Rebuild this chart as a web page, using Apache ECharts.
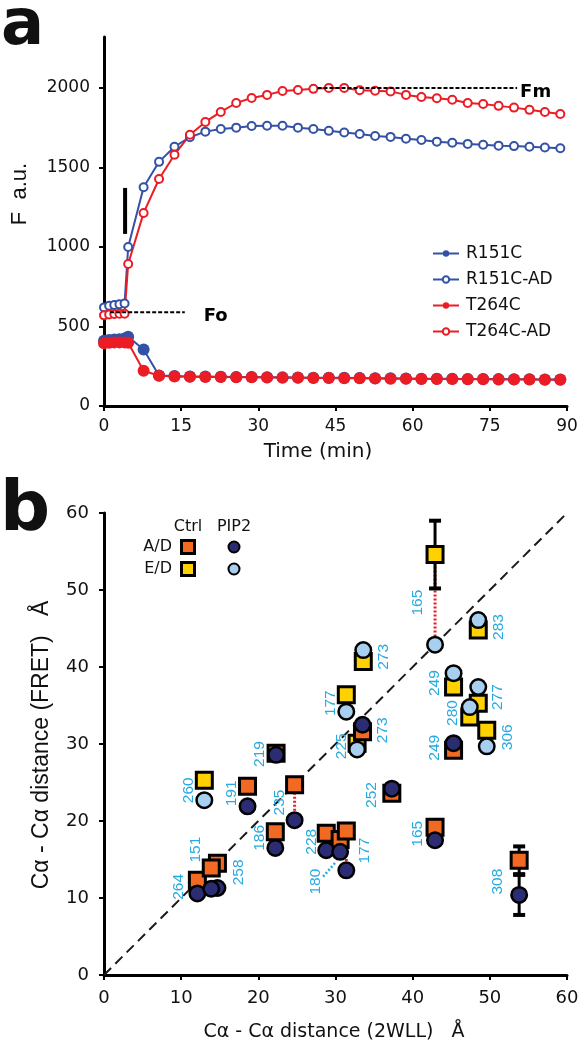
<!DOCTYPE html>
<html><head><meta charset="utf-8">
<script src="https://cdn.jsdelivr.net/npm/echarts@6/dist/echarts.min.js"></script>
<style>html,body{margin:0;padding:0;background:#fff}#c{width:582px;height:1050px}</style>
</head><body><div id="c"></div>
<script>
// ================= Panel a data =================
const timeMin = [0, 1, 2, 3, 4, 4.7, 7.7, 10.7, 13.7, 16.7, 19.7, 22.7, 25.7, 28.7, 31.7, 34.7, 37.7, 40.7, 43.7, 46.7, 49.7, 52.7, 55.7, 58.7, 61.7, 64.7, 67.7, 70.7, 73.7, 76.7, 79.7, 82.7, 85.7, 88.7];
const r151c   = [410, 415, 418, 420, 425, 435, 355, 192, 188, 186, 185, 184, 183, 182, 181, 180, 179, 178, 178, 177, 176, 175, 174, 173, 172, 172, 171, 170, 170, 169, 168, 168, 167, 167];
const r151cAD = [620, 630, 635, 640, 645, 1000, 1375, 1535, 1630, 1690, 1725, 1742, 1750, 1760, 1762, 1762, 1750, 1742, 1730, 1720, 1710, 1698, 1692, 1680, 1672, 1662, 1655, 1648, 1642, 1637, 1634, 1630, 1625, 1620];
const t264c   = [395, 398, 400, 400, 400, 398, 222, 190, 186, 184, 183, 182, 181, 180, 179, 178, 177, 176, 176, 175, 174, 173, 172, 171, 170, 170, 169, 168, 168, 167, 166, 166, 165, 165];
const t264cAD = [570, 575, 578, 580, 580, 893, 1214, 1427, 1580, 1705, 1786, 1849, 1905, 1937, 1956, 1981, 1987, 1994, 2000, 2000, 1985, 1982, 1978, 1956, 1943, 1935, 1925, 1905, 1899, 1887, 1876, 1862, 1849, 1836];
const aSeriesNames = ['R151C', 'R151C-AD', 'T264C', 'T264C-AD'];
const aTicksY = [0, 500, 1000, 1500, 2000];
const aTicksX = [0, 15, 30, 45, 60, 75, 90];
// annotations (data units)
const fmLine = [[41.5, 2000], [80.3, 2000]];
const foLine = [[1.2, 590], [15.7, 590]];
const addBar = [[4.1, 1082], [4.1, 1371]];

// ================= Panel b data =================
const adResidue = ['264', '151', '258', '191', '219', '186', '235', '228', '180', '177', '273', '252', '165', '249', '308'];
const adX       = [12.1, 14.7, 13.9, 18.6, 22.3, 22.2, 24.7, 28.8, 30.6, 31.4, 33.5, 37.3, 42.9, 45.3, 53.8];
const adCtrl    = [12.3, 14.5, 13.9, 24.5, 28.8, 18.6, 24.7, 18.4, 17.6, 18.7, 31.6, 23.6, 19.2, 29.2, 14.9];
const adPip2    = [10.6, 11.3, 11.2, 21.9, 28.6, 16.5, 20.1, 16.2, 16.0, 13.6, 32.5, 24.2, 17.5, 30.1, 10.4];
const adCtrlErr = [0, 0, 0, 0, 0, 0, 0, 0, 0, 0, 0, 0, 0, 0, 1.8];
const adPip2Err = [0, 0, 0, 0, 0, 0, 0, 0, 0, 0, 0, 0, 0, 0, 2.6];
const edResidue = ['260', '177', '225', '273', '165', '249', '280', '277', '283', '306'];
const edX       = [13.0, 31.4, 32.8, 33.6, 42.9, 45.3, 47.4, 48.5, 48.5, 49.6];
const edCtrl    = [25.3, 36.4, 30.1, 40.7, 54.6, 37.4, 33.5, 35.3, 44.8, 31.8];
const edPip2    = [22.7, 34.2, 29.3, 42.2, 42.9, 39.2, 34.8, 37.4, 46.1, 29.7];
const edCtrlErr = [0, 0, 0, 0, 4.4, 0, 0, 0, 0, 0];
const edPip2Err = [0, 0, 0, 0, 0, 0, 0, 0, 0, 0];
const adSignificant = ['235', '177'];
const edSignificant = ['165'];
const diagonal = [[0, 0], [60, 60]];
const bTicks = [0, 10, 20, 30, 40, 50, 60];

// ================= layout / style =================
const BLUE = '#3352a6', RED = '#ec1c24';
const ORANGE = '#f26a22', YELLOW = '#ffd100', NAVY = '#2b2c72', LIGHTBLUE = '#a8cff0';
const CYAN = '#27aae1';
const SANS = '"DejaVu Sans", sans-serif';
const ARIAL = '"Liberation Sans", Arial, sans-serif';
// label offsets in pixels from (x, mid y) of each pair
const labelOffset = {
  AD: {'264': [-19, 0], '151': [-22, -26], '258': [27, -6], '191': [-16, -3], '219': [-16, 0], '186': [-16, -2],
       '235': [-15, 0], '228': [-15, 0], '180': [-24, 36], '177': [18, 0], '273': [20, 2], '252': [-20, 4],
       '165': [-17, 0], '249': [-19, 1], '308': [-21, 4]},
  ED: {'260': [-16, 0], '177': [-16, 0], '225': [-15, 0], '273': [20, 1], '165': [-17, 3], '249': [-19, 3],
       '280': [-17, 1], '277': [19, 2], '283': [20, 2], '306': [21, -1]}
};
const leaders = {AD: {'180': [[-17, 31], [-4, 16]]}};

const chart = echarts.init(document.getElementById('c'), null, {renderer: 'canvas'});

function pts(xs, ys) { return xs.map((x, i) => [x, ys[i]]); }

const pairs = [];
adResidue.forEach((r, i) => pairs.push({t: 'AD', r, x: adX[i], c: adCtrl[i], p: adPip2[i]}));
edResidue.forEach((r, i) => pairs.push({t: 'ED', r, x: edX[i], c: edCtrl[i], p: edPip2[i]}));

const errData = [];
adX.forEach((x, i) => { if (adCtrlErr[i]) errData.push([x, adCtrl[i], adCtrlErr[i]]); if (adPip2Err[i]) errData.push([x, adPip2[i], adPip2Err[i]]); });
edX.forEach((x, i) => { if (edCtrlErr[i]) errData.push([x, edCtrl[i], edCtrlErr[i]]); if (edPip2Err[i]) errData.push([x, edPip2[i], edPip2Err[i]]); });

const sigData = [];
pairs.forEach(p => { if ((p.t === 'AD' && adSignificant.includes(p.r)) || (p.t === 'ED' && edSignificant.includes(p.r))) sigData.push([p.x, p.c, p.p]); });

const labelData = pairs.map((p, i) => [p.x, (p.c + p.p) / 2, i]);

const axisCommon = {
  axisLine: {show: true, onZero: false, lineStyle: {color: '#000', width: 3}},
  axisTick: {show: true, inside: false, length: 5, lineStyle: {color: '#000', width: 2}},
  splitLine: {show: false}
};
const plain = v => String(v);

const lineA = (name, data, color, filled) => ({
  type: 'line', name, xAxisIndex: 0, yAxisIndex: 0, data,
  symbol: filled ? 'circle' : 'emptyCircle', symbolSize: filled ? 12 : 8,
  showAllSymbol: true,
  itemStyle: {color, borderColor: color, borderWidth: filled ? 0 : 2},
  lineStyle: {color, width: 2}, z: filled ? 2 : 3
});

const option = {
  animation: false,
  backgroundColor: '#fff',
  textStyle: {fontFamily: SANS},
  grid: [
    {left: 104, top: 37, width: 463, height: 369},
    {left: 104, top: 513, width: 463, height: 462}
  ],
  xAxis: [
    Object.assign({}, axisCommon, {type: 'value', gridIndex: 0, min: 0, max: 90, interval: 15,
      axisLabel: {fontSize: 17, color: '#111', margin: 12, fontFamily: SANS, customValues: aTicksX, formatter: plain},
      axisTick: Object.assign({}, axisCommon.axisTick, {customValues: aTicksX})}),
    Object.assign({}, axisCommon, {type: 'value', gridIndex: 1, min: 0, max: 60, interval: 10,
      axisLabel: {fontSize: 18, color: '#111', margin: 14, fontFamily: SANS, customValues: bTicks, formatter: plain},
      axisTick: Object.assign({}, axisCommon.axisTick, {customValues: bTicks})})
  ],
  yAxis: [
    Object.assign({}, axisCommon, {type: 'value', gridIndex: 0, min: 0, max: 2320, interval: 500,
      axisLabel: {fontSize: 17, color: '#111', margin: 14, fontFamily: SANS, customValues: aTicksY, formatter: plain},
      axisTick: Object.assign({}, axisCommon.axisTick, {customValues: aTicksY})}),
    Object.assign({}, axisCommon, {type: 'value', gridIndex: 1, min: 0, max: 60, interval: 10,
      axisLabel: {fontSize: 18, color: '#111', margin: 15, fontFamily: SANS, customValues: bTicks, formatter: plain},
      axisTick: Object.assign({}, axisCommon.axisTick, {customValues: bTicks})})
  ],
  legend: {
    data: aSeriesNames, orient: 'vertical', left: 427, top: 240, itemWidth: 26, itemHeight: 8, itemGap: 9,
    textStyle: {fontSize: 17, color: '#111', fontFamily: SANS, padding: [0, 0, 0, 2]},
    selectedMode: false
  },
  series: [
    lineA('R151C', pts(timeMin, r151c), BLUE, true),
    lineA('T264C', pts(timeMin, t264c), RED, true),
    lineA('R151C-AD', pts(timeMin, r151cAD), BLUE, false),
    lineA('T264C-AD', pts(timeMin, t264cAD), RED, false),
    {type: 'line', xAxisIndex: 0, yAxisIndex: 0, data: fmLine, symbol: 'none', silent: true, z: 5,
      lineStyle: {color: '#000', width: 2, type: [4, 2]},
      endLabel: {show: true, formatter: 'Fm', fontSize: 18, fontWeight: 'bold', color: '#000', distance: 3, offset: [0, 4], fontFamily: SANS}},
    {type: 'line', xAxisIndex: 0, yAxisIndex: 0, data: foLine, symbol: 'none', silent: true, z: 5,
      lineStyle: {color: '#000', width: 2, type: [4, 2]},
      endLabel: {show: true, formatter: 'Fo', fontSize: 18, fontWeight: 'bold', color: '#000', distance: 19, offset: [0, 4], fontFamily: SANS}},
    {type: 'line', xAxisIndex: 0, yAxisIndex: 0, data: addBar, symbol: 'none', silent: true, z: 5,
      lineStyle: {color: '#000', width: 4}},

    // ---- panel b ----
    {type: 'line', xAxisIndex: 1, yAxisIndex: 1, data: diagonal, symbol: 'none', silent: true, z: 1,
      lineStyle: {color: '#1a1a1a', width: 2, type: [10, 6]}},
    {type: 'custom', xAxisIndex: 1, yAxisIndex: 1, data: sigData, z: 2, silent: true,
      renderItem: (params, api) => {
        const a = api.coord([api.value(0), api.value(1)]), b = api.coord([api.value(0), api.value(2)]);
        return {type: 'line', shape: {x1: a[0], y1: a[1], x2: b[0], y2: b[1]},
          style: {stroke: '#e8202a', lineWidth: 3, lineDash: [2, 2]}};
      }},
    {type: 'custom', xAxisIndex: 1, yAxisIndex: 1, data: errData, z: 3, silent: true,
      renderItem: (params, api) => {
        const x = api.value(0), y = api.value(1), e = api.value(2);
        const t = api.coord([x, y + e]), b = api.coord([x, y - e]);
        const cw = 6;
        return {type: 'group', children: [
          {type: 'line', shape: {x1: t[0], y1: t[1], x2: b[0], y2: b[1]}, style: {stroke: '#000', lineWidth: 3}},
          {type: 'line', shape: {x1: t[0] - cw, y1: t[1], x2: t[0] + cw, y2: t[1]}, style: {stroke: '#000', lineWidth: 4}},
          {type: 'line', shape: {x1: b[0] - cw, y1: b[1], x2: b[0] + cw, y2: b[1]}, style: {stroke: '#000', lineWidth: 4}}
        ]};
      }},
    {type: 'scatter', name: 'Ctrl E/D', xAxisIndex: 1, yAxisIndex: 1, data: pts(edX, edCtrl), z: 4,
      symbol: 'rect', symbolSize: 16, itemStyle: {color: YELLOW, borderColor: '#000', borderWidth: 3, opacity: 1}},
    {type: 'scatter', name: 'Ctrl A/D', xAxisIndex: 1, yAxisIndex: 1, data: pts(adX, adCtrl), z: 4,
      symbol: 'rect', symbolSize: 16, itemStyle: {color: ORANGE, borderColor: '#000', borderWidth: 3, opacity: 1}},
    {type: 'scatter', name: 'PIP2 E/D', xAxisIndex: 1, yAxisIndex: 1, data: pts(edX, edPip2), z: 5,
      symbol: 'circle', symbolSize: 15.5, itemStyle: {color: LIGHTBLUE, borderColor: '#000', borderWidth: 2.5, opacity: 1}},
    {type: 'scatter', name: 'PIP2 A/D', xAxisIndex: 1, yAxisIndex: 1, data: pts(adX, adPip2), z: 5,
      symbol: 'circle', symbolSize: 15.5, itemStyle: {color: NAVY, borderColor: '#000', borderWidth: 2.5, opacity: 1}},
    {type: 'custom', xAxisIndex: 1, yAxisIndex: 1, data: labelData, z: 10, silent: true,
      renderItem: (params, api) => {
        const p = pairs[api.value(2)];
        const c = api.coord([api.value(0), api.value(1)]);
        const off = labelOffset[p.t][p.r] || [-16, 0];
        const children = [{type: 'text', x: c[0] + off[0], y: c[1] + off[1], rotation: Math.PI / 2,
          style: {text: p.r, fill: CYAN, font: '15.5px ' + ARIAL, align: 'center', verticalAlign: 'middle'}}];
        const ld = leaders[p.t] && leaders[p.t][p.r];
        if (ld) children.push({type: 'line', shape: {x1: c[0] + ld[0][0], y1: c[1] + ld[0][1], x2: c[0] + ld[1][0], y2: c[1] + ld[1][1]},
          style: {stroke: CYAN, lineWidth: 2.5, lineDash: [2, 2]}});
        return {type: 'group', children};
      }}
  ],
  graphic: [
    {type: 'text', left: 1, top: -5, style: {text: 'a', font: 'bold 64px ' + SANS, fill: '#111'}},
    {type: 'text', left: 0, top: 477, style: {text: 'b', font: 'bold 70px ' + SANS, fill: '#111'}},
    {type: 'text', x: 20, y: 194, rotation: Math.PI / 2, style: {text: 'F  a.u.', font: '22px ' + ARIAL, fill: '#111', align: 'center', verticalAlign: 'middle'}},
    {type: 'text', x: 318, y: 452, style: {text: 'Time (min)', font: '20px ' + SANS, fill: '#111', align: 'center', verticalAlign: 'middle'}},
    {type: 'text', x: 42, y: 745, rotation: Math.PI / 2, style: {text: 'C\u03b1 - C\u03b1 distance (FRET)   \u00c5', font: '23px ' + ARIAL, fill: '#111', align: 'center', verticalAlign: 'middle'}},
    {type: 'text', x: 334, y: 1032, style: {text: 'C\u03b1 - C\u03b1 distance (2WLL)   \u00c5', font: '19px ' + SANS, fill: '#111', align: 'center', verticalAlign: 'middle'}},
    // panel b legend
    {type: 'text', x: 188, y: 527, style: {text: 'Ctrl', font: '16px ' + SANS, fill: '#111', align: 'center', verticalAlign: 'middle'}},
    {type: 'text', x: 234, y: 527, style: {text: 'PIP2', font: '16px ' + SANS, fill: '#111', align: 'center', verticalAlign: 'middle'}},
    {type: 'text', x: 172, y: 547, style: {text: 'A/D', font: '16px ' + SANS, fill: '#111', align: 'right', verticalAlign: 'middle'}},
    {type: 'text', x: 172, y: 569, style: {text: 'E/D', font: '16px ' + SANS, fill: '#111', align: 'right', verticalAlign: 'middle'}},
    {type: 'rect', shape: {x: 181.5, y: 540.5, width: 13, height: 13}, style: {fill: ORANGE, stroke: '#000', lineWidth: 3}},
    {type: 'rect', shape: {x: 181.5, y: 562.5, width: 13, height: 13}, style: {fill: YELLOW, stroke: '#000', lineWidth: 3}},
    {type: 'circle', shape: {cx: 234, cy: 547, r: 5.5}, style: {fill: NAVY, stroke: '#000', lineWidth: 2}},
    {type: 'circle', shape: {cx: 234, cy: 569, r: 5.5}, style: {fill: LIGHTBLUE, stroke: '#000', lineWidth: 2}}
  ]
};
chart.setOption(option);
</script></body></html>
